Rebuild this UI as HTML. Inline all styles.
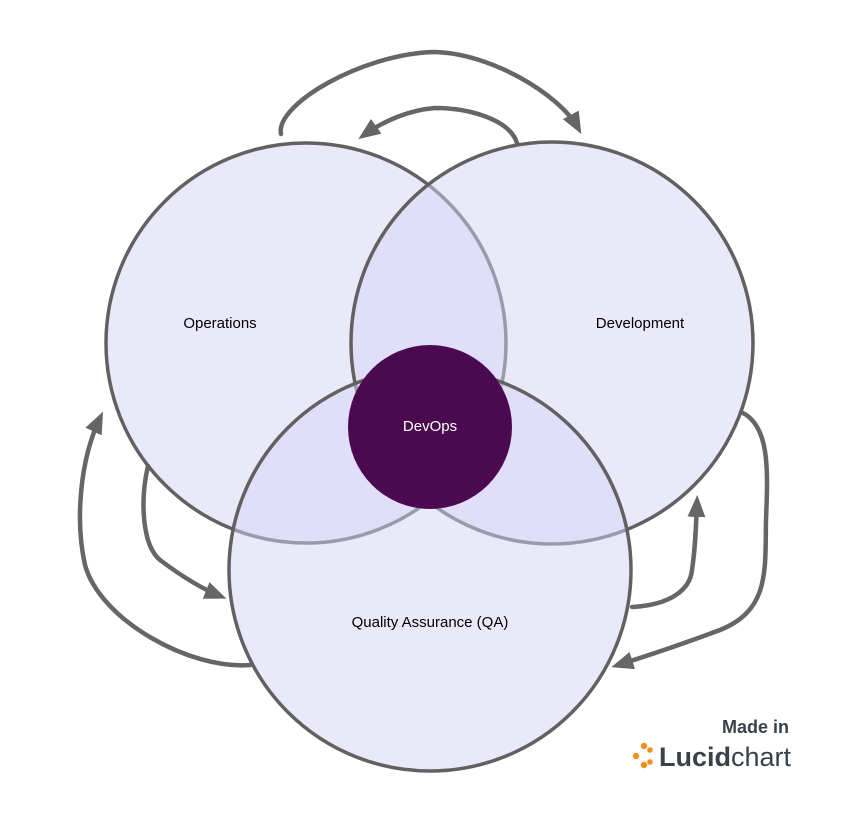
<!DOCTYPE html>
<html><head><style>body{margin:0;background:#fff}svg{display:block}</style></head><body>
<svg width="860" height="813" viewBox="0 0 860 813" xmlns="http://www.w3.org/2000/svg">
<defs>
<marker id="a" markerWidth="22" markerHeight="18" refX="15" refY="9" orient="auto" markerUnits="userSpaceOnUse">
<path d="M0,0 L22,9 L0,18 Z" fill="#666"/></marker>
</defs>
<g fill="none" stroke="#666" stroke-width="4.5" stroke-linecap="round">
<path d="M281,134 C275,105 360,55 432,52 C490,52 560,95 578,128" marker-end="url(#a)"/>
<path d="M517,143 C510,120 470,108 435,108 C410,110 385,120 364,135" marker-end="url(#a)"/>
<path d="M250,665 C190,670 100,620 85,565 C75,520 80,460 100,418" marker-end="url(#a)"/>
<path d="M148,466 C140,500 142,545 160,560 C180,575 200,588 220,596" marker-end="url(#a)"/>
<path d="M632,607 C670,605 690,590 692,570 C695,550 696,530 697,502" marker-end="url(#a)"/>
<path d="M741,412 C770,425 768,470 766,520 C765,570 770,610 720,630 C680,645 650,655 618,665" marker-end="url(#a)"/>
</g>
<g stroke="#616161" stroke-width="3.5">
<circle cx="306" cy="343" r="200" fill="rgb(214,212,245)" fill-opacity="0.5"/>
<circle cx="552" cy="343" r="201" fill="rgb(214,212,245)" fill-opacity="0.5"/>
<circle cx="430" cy="570" r="201" fill="rgb(214,212,245)" fill-opacity="0.5"/>
</g>
<circle cx="430" cy="427" r="82" fill="#4b0a50"/>
<g font-family="Liberation Sans, sans-serif" font-size="15" text-anchor="middle" fill="#000">
<text x="220" y="328">Operations</text>
<text x="640" y="328">Development</text>
<text x="430" y="627">Quality Assurance (QA)</text>
<text x="430" y="431" fill="#fff">DevOps</text>
</g>
<g font-family="Liberation Sans, sans-serif" fill="#3a414a">
<text x="789" y="733" font-size="18" font-weight="bold" text-anchor="end">Made in</text>
<text x="659" y="766" font-size="27"><tspan font-weight="bold">Lucid</tspan>chart</text>
</g>
<g fill="#f3901d">
<circle cx="644" cy="746" r="3.2"/><circle cx="636" cy="756" r="3.2"/><circle cx="644" cy="765" r="3.2"/>
<circle cx="650" cy="750" r="2.8"/><circle cx="650" cy="762" r="2.8"/>
</g>
</svg>
</body></html>
